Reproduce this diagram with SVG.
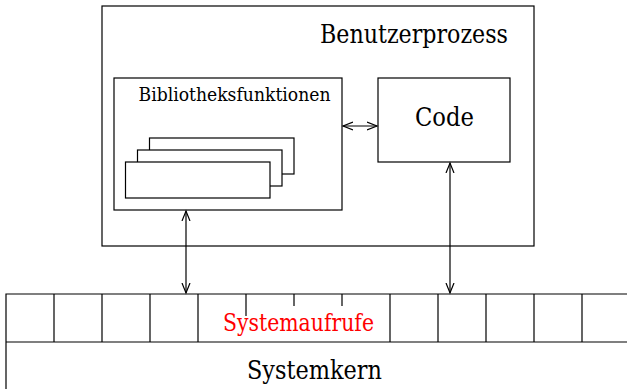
<svg xmlns="http://www.w3.org/2000/svg" width="627" height="389" viewBox="0 0 627 389">
<style>
.box{fill:#fff;stroke:#000;stroke-width:1.2}
.ln{stroke:#000;stroke-width:1.2;fill:none}
.t{font-family:'DejaVu Serif',serif;fill:#000}
</style>
<defs>
<marker id="ah" markerWidth="12" markerHeight="10" refX="10" refY="5" orient="auto-start-reverse" markerUnits="userSpaceOnUse">
<path d="M0,1 L10,5 L0,9" fill="none" stroke="#000" stroke-width="1.2"/>
</marker>
</defs>
<rect width="627" height="389" fill="#fff"/>
<g id="benutzerprozess">
<rect class="box" x="102" y="6" width="432" height="240"/>
<text class="t" x="320" y="43" font-size="26" textLength="188" lengthAdjust="spacingAndGlyphs">Benutzerprozess</text>
</g>
<g id="bibliotheksfunktionen">
<rect class="box" x="114" y="78" width="228" height="132"/>
<text class="t" x="138.5" y="101" font-size="19" textLength="192" lengthAdjust="spacingAndGlyphs">Bibliotheksfunktionen</text>
<rect class="box" x="149.5" y="138" width="144.5" height="36"/>
<rect class="box" x="137.5" y="150" width="144.5" height="36"/>
<rect class="box" x="125.5" y="162" width="144.5" height="36"/>
</g>
<g id="code">
<rect class="box" x="378" y="78" width="132" height="84"/>
<text class="t" x="415" y="126" font-size="26" textLength="59" lengthAdjust="spacingAndGlyphs">Code</text>
</g>
<g id="systemaufrufe">
<path class="ln" d="M627,294 H6 V389 M6,342 H627"/>
<path class="ln" d="M54,294 V342 M102,294 V342 M150,294 V342 M198,294 V342 M390,294 V342 M438,294 V342 M486,294 V342 M534,294 V342 M582,294 V342 M246,294 V316 M294,294 V306 M342,294 V306"/>
<text class="t" x="223" y="331" font-size="24" textLength="151" lengthAdjust="spacingAndGlyphs" style="fill:#f00">Systemaufrufe</text>
</g>
<g id="systemkern">
<text class="t" x="247" y="379" font-size="26" textLength="135" lengthAdjust="spacingAndGlyphs">Systemkern</text>
</g>
<g id="connectors">
<line class="ln" x1="343" y1="126" x2="377" y2="126" marker-start="url(#ah)" marker-end="url(#ah)"/>
<line class="ln" x1="186" y1="211" x2="186" y2="293" marker-start="url(#ah)" marker-end="url(#ah)"/>
<line class="ln" x1="450" y1="163" x2="450" y2="293" marker-start="url(#ah)" marker-end="url(#ah)"/>
</g>
</svg>
